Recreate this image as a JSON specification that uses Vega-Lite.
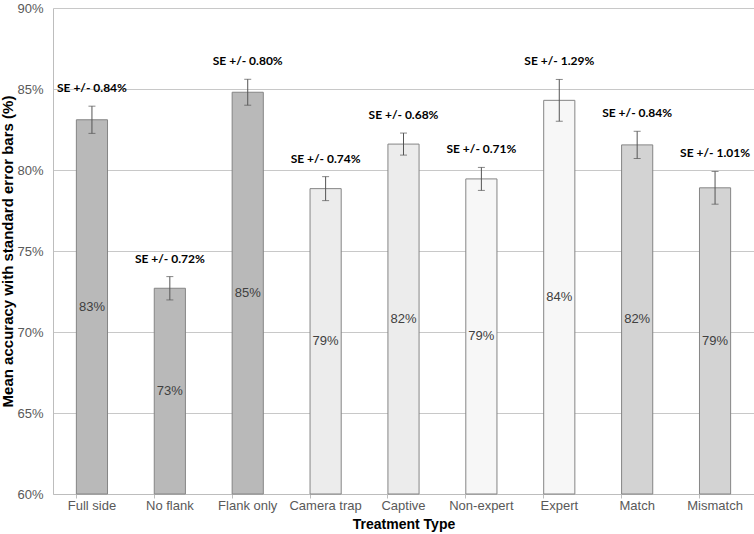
{
  "$schema": "https://vega.github.io/schema/vega-lite/v6.json",
  "width": 701,
  "height": 486,
  "autosize": "none",
  "padding": {"left": 53, "top": 8, "right": 0, "bottom": 40},
  "background": "white",
  "config": {"view": {"stroke": null}},
  "data": {"values": [
    {"type": "Full side", "mean": 83.1, "se": 0.84, "group": "a", "pct": "83%", "selabel": "SE +/- 0.84%"},
    {"type": "No flank", "mean": 72.7, "se": 0.72, "group": "a", "pct": "73%", "selabel": "SE +/- 0.72%"},
    {"type": "Flank only", "mean": 84.8, "se": 0.80, "group": "a", "pct": "85%", "selabel": "SE +/- 0.80%"},
    {"type": "Camera trap", "mean": 78.85, "se": 0.74, "group": "b", "pct": "79%", "selabel": "SE +/- 0.74%"},
    {"type": "Captive", "mean": 81.6, "se": 0.68, "group": "b", "pct": "82%", "selabel": "SE +/- 0.68%"},
    {"type": "Non-expert", "mean": 79.45, "se": 0.71, "group": "c", "pct": "79%", "selabel": "SE +/- 0.71%"},
    {"type": "Expert", "mean": 84.3, "se": 1.29, "group": "c", "pct": "84%", "selabel": "SE +/- 1.29%"},
    {"type": "Match", "mean": 81.55, "se": 0.84, "group": "d", "pct": "82%", "selabel": "SE +/- 0.84%"},
    {"type": "Mismatch", "mean": 78.9, "se": 1.01, "group": "d", "pct": "79%", "selabel": "SE +/- 1.01%"}
  ]},
  "transform": [
    {"calculate": "(datum.mean + 60) / 2", "as": "mid"},
    {"calculate": "datum.mean + datum.se", "as": "top"}
  ],
  "encoding": {
    "x": {
      "field": "type", "type": "nominal", "sort": null,
      "scale": {"paddingInner": 0.6, "paddingOuter": 0.3},
      "axis": {
        "title": "Treatment Type", "titleFont": "Liberation Sans", "titleFontSize": 14, "titleFontWeight": "bold", "titleColor": "#000000", "titlePadding": 5,
        "labelAngle": 0, "labelFont": "Liberation Sans", "labelFontSize": 13, "labelColor": "#595959", "labelPadding": 1,
        "domainColor": "#bdbdbd", "tickColor": "#bdbdbd", "tickSize": 4, "bandPosition": 0, "grid": false
      }
    }
  },
  "layer": [
    {
      "mark": {"type": "bar", "stroke": "#858585", "strokeWidth": 1},
      "encoding": {
        "y": {
          "field": "mean", "type": "quantitative",
          "scale": {"domain": [60, 90], "zero": false, "nice": false},
          "axis": {
            "values": [60, 65, 70, 75, 80, 85, 90], "labelExpr": "datum.value + '%'",
            "title": "Mean accuracy with standard error bars (%)", "titleFont": "Liberation Sans", "titleFontSize": 15, "titleFontWeight": "bold", "titleColor": "#000000", "titlePadding": 1,
            "labelFont": "Liberation Sans", "labelFontSize": 13, "labelColor": "#595959", "labelPadding": 10,
            "ticks": false, "domainColor": "#bdbdbd", "gridColor": "#c8c8c8", "grid": true
          }
        },
        "y2": {"datum": 60},
        "fill": {
          "field": "group", "type": "nominal", "legend": null,
          "scale": {"domain": ["a", "b", "c", "d"], "range": ["#b9b9b9", "#ececec", "#f7f7f7", "#d3d3d3"]}
        }
      }
    },
    {
      "mark": {"type": "errorbar", "ticks": {"size": 7, "color": "#555555"}, "rule": {"color": "#555555", "strokeWidth": 1}},
      "encoding": {
        "y": {"field": "mean", "type": "quantitative", "title": "Mean accuracy with standard error bars (%)"},
        "yError": {"field": "se"}
      }
    },
    {
      "mark": {"type": "text", "font": "Liberation Sans", "fontSize": 13, "color": "#404040", "baseline": "middle"},
      "encoding": {
        "y": {"field": "mid", "type": "quantitative"},
        "text": {"field": "pct"}
      }
    },
    {
      "mark": {"type": "text", "font": "Lato", "fontWeight": "bold", "fontSize": 12, "color": "#000000", "baseline": "middle", "dy": -18},
      "encoding": {
        "y": {"field": "top", "type": "quantitative"},
        "text": {"field": "selabel"}
      }
    }
  ]
}
